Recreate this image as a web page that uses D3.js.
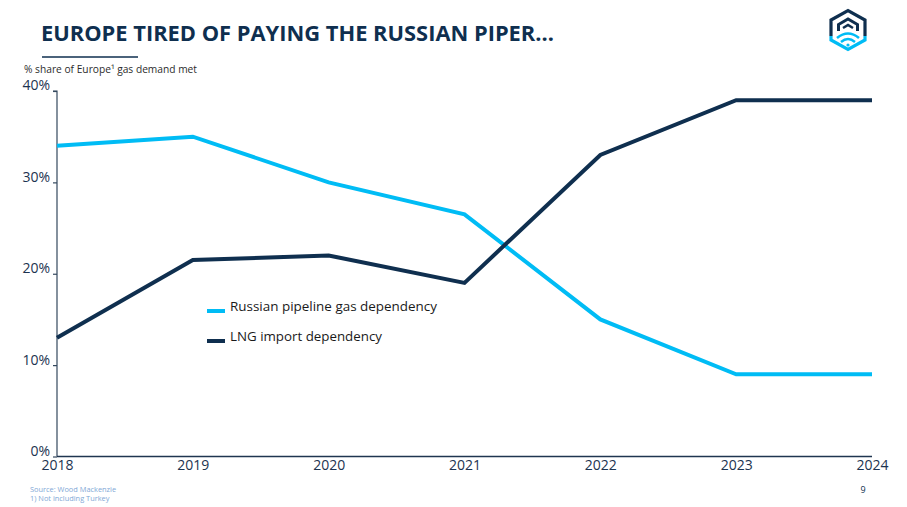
<!DOCTYPE html>
<html><head><meta charset="utf-8">
<script src="https://cdn.jsdelivr.net/npm/d3@7"></script>
<style>html,body{margin:0;padding:0;background:#fff;}svg{display:block;font-family:"Open Sans",sans-serif;}</style>
</head><body>
<svg id="c" width="907" height="507"></svg>
<script>
const years = ["2018","2019","2020","2021","2022","2023","2024"];
const russianPipeline = [34, 35, 30, 26.5, 15, 9, 9];
const lngImport = [13, 21.5, 22, 19, 33, 39, 39];
const yTicks = [0, 10, 20, 30, 40];
const seriesNames = ["Russian pipeline gas dependency", "LNG import dependency"];

const navy = "#0f2f4f", cyan = "#00bcf5", ink = "#1c3350";
const svg = d3.select("#c");

const x = d3.scalePoint().domain(years).range([57, 872]);
const y = d3.scaleLinear().domain([0, 40]).range([456.5, 91]);

// Title
svg.append("text").attr("x", 41).attr("y", 41).attr("fill", navy)
  .attr("font-size", 22).attr("font-weight", 700)
  .attr("textLength", 513).attr("lengthAdjust", "spacingAndGlyphs")
  .text("EUROPE TIRED OF PAYING THE RUSSIAN PIPER\u2026");
svg.append("line").attr("x1", 42).attr("x2", 138).attr("y1", 57).attr("y2", 57)
  .attr("stroke", navy).attr("stroke-width", 1.3);

// Subtitle (superscript footnote marker as inline glyph)
svg.append("text").attr("x", 24).attr("y", 73).attr("fill", "#2b2b2b").attr("font-size", 10.5)
  .attr("textLength", 173).attr("lengthAdjust", "spacingAndGlyphs")
  .text("% share of Europe\u00B9 gas demand met");

// Logo
const logo = svg.append("g").attr("fill", "none").attr("stroke-linejoin", "miter");
logo.append("path").attr("d", "M831,36 L831,20 L848,10.5 L865,20 L865,36").attr("stroke", navy).attr("stroke-width", 3.2);
logo.append("path").attr("d", "M831,36 L831,40 L848,49.5 L865,40 L865,36").attr("stroke", cyan).attr("stroke-width", 3.2);
logo.append("path").attr("d", "M838.5,31 L838.5,24.5 L848,19 L857.5,24.5 L857.5,31").attr("stroke", navy).attr("stroke-width", 3);
logo.append("path").attr("d", "M843,28 L848,25 L853,28").attr("stroke", navy).attr("stroke-width", 2.6);
logo.append("path").attr("d", "M837,38 Q848,29 859,38").attr("stroke", cyan).attr("stroke-width", 2.6);
logo.append("path").attr("d", "M841,42 Q848,36 855,42").attr("stroke", cyan).attr("stroke-width", 2.4);
logo.append("circle").attr("cx", 848).attr("cy", 45).attr("r", 1.6).attr("fill", cyan).attr("stroke", "none");

// Axes
const yAxis = d3.axisLeft(y).tickValues(yTicks).tickSize(4).tickFormat(d => d + "%");
const gy = svg.append("g").attr("transform", "translate(57,0)").call(yAxis);
gy.select(".domain").attr("stroke", "#34485e").attr("stroke-width", 1.2).attr("d", `M-4,${y(40)}H0V${y(0)}`);
gy.selectAll(".tick line").attr("stroke", "#34485e").attr("stroke-width", 1.2);
gy.selectAll(".tick text").attr("fill", ink).attr("font-family", "Open Sans")
  .attr("x", -7).attr("dy", "-0.08em").attr("font-size", 14);

const xAxis = d3.axisBottom(x).tickSize(0).tickPadding(3);
const gx = svg.append("g").attr("transform", `translate(0,${y(0)})`).call(xAxis);
gx.select(".domain").attr("stroke", "#1f3550").attr("stroke-width", 1.5).attr("d", `M57,0H872`);
gx.selectAll(".tick text").attr("fill", ink).attr("font-size", 14).attr("font-family", "Open Sans").attr("dy", "0.78em");

// Lines
const line = d3.line().x((d, i) => x(years[i])).y(d => y(d));
svg.append("path").datum(russianPipeline).attr("d", line).attr("fill", "none")
  .attr("stroke", cyan).attr("stroke-width", 4).attr("stroke-linejoin", "miter");
svg.append("path").datum(lngImport).attr("d", line).attr("fill", "none")
  .attr("stroke", navy).attr("stroke-width", 4).attr("stroke-linejoin", "miter");

// Legend
const legend = [
  {name: seriesNames[0], color: cyan, yy: 311, w: 207},
  {name: seriesNames[1], color: navy, yy: 341, w: 152}
];
legend.forEach(l => {
  svg.append("line").attr("x1", 207).attr("x2", 225).attr("y1", l.yy).attr("y2", l.yy)
    .attr("stroke", l.color).attr("stroke-width", 4);
  svg.append("text").attr("x", 230).attr("y", l.yy).attr("fill", "#1a1a1a").attr("font-size", 13.5)
    .attr("textLength", l.w).attr("lengthAdjust", "spacingAndGlyphs").text(l.name);
});

// Footer
svg.append("text").attr("x", 30).attr("y", 492).attr("fill", "#7fa8d6").attr("font-size", 7.4).text("Source: Wood Mackenzie");
svg.append("text").attr("x", 30).attr("y", 501).attr("fill", "#7fa8d6").attr("font-size", 7.4).text("1) Not including Turkey");
svg.append("text").attr("x", 863).attr("y", 493).attr("fill", navy).attr("font-size", 9).attr("text-anchor", "middle").text("9");
</script>
</body></html>
